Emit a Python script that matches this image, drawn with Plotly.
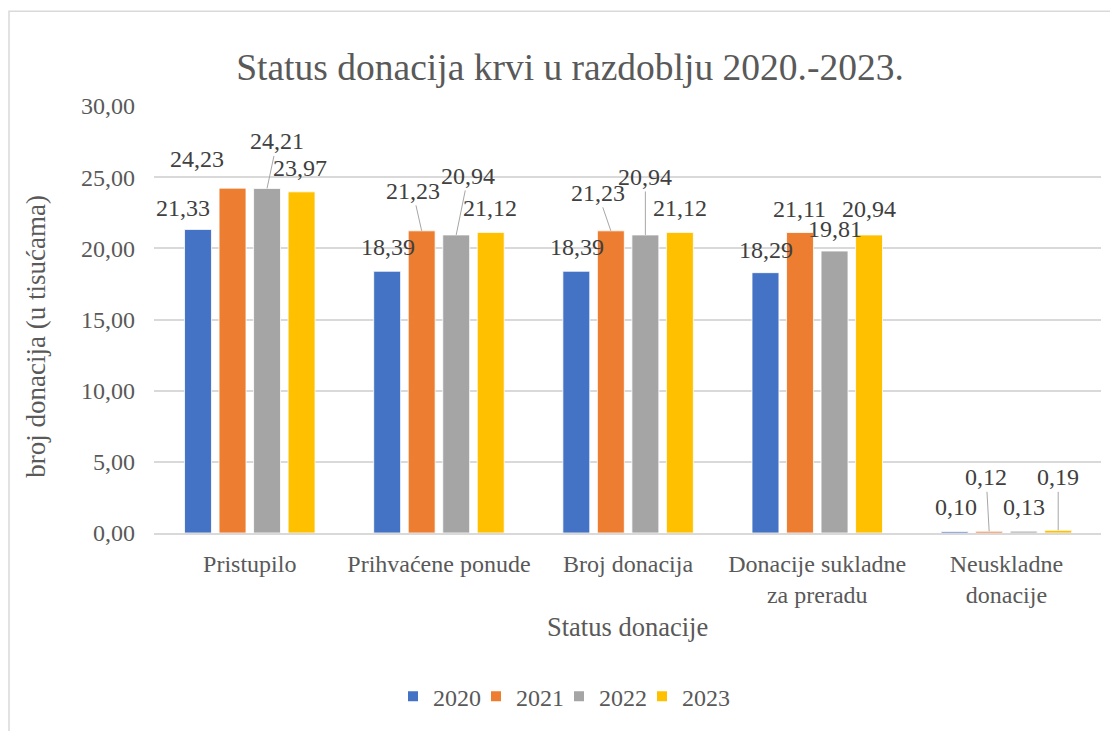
import plotly.graph_objects as go

categories = ["Pristupilo", "Prihvaćene ponude", "Broj donacija",
              "Donacije sukladne<br>za preradu", "Neuskladne<br>donacije"]
years = ["2020", "2021", "2022", "2023"]
v2020 = [21.33, 18.39, 18.39, 18.29, 0.10]
v2021 = [24.23, 21.23, 21.23, 21.11, 0.12]
v2022 = [24.21, 20.94, 20.94, 19.81, 0.13]
v2023 = [23.97, 21.12, 21.12, 20.94, 0.19]
series = [v2020, v2021, v2022, v2023]
colors = ["#4472C4", "#ED7D31", "#A5A5A5", "#FFC000"]

# label offsets (px) of label centre from bar top, and whether a leader line is drawn
label_style = [
    [(-15, -21, False), (1, -24, False), (1, -24, False), (1, -23, False), (1, -25, False)],
    [(-36, -29, False), (-9, -40, True), (-13, -38, True), (-1, -24, False), (-3, -54, True)],
    [(10, -47, True), (12, -59, True), (0, -58, True), (0, -22, False), (0, -24, False)],
    [(-2, -24, False), (-1, -24, False), (0, -24, False), (0, -26, False), (0, -53, True)],
]

FONT = "Liberation Serif"
TXT = "#595959"
OFF = 8  # page body margin

fig = go.Figure()
for yr, vals, c in zip(years, series, colors):
    fig.add_trace(go.Bar(x=categories, y=vals, name=yr, marker_color=c,
                         marker_line_color="white", marker_line_width=0.8))
# invisible spacer so the last legend entry is not clipped
fig.add_trace(go.Scatter(x=[None], y=[None], mode="markers", name=" ",
                         marker=dict(color="rgba(0,0,0,0)"), hoverinfo="skip"))

W, H = 1110, 723
L, T = 154 - OFF, 106 - OFF
R = W - (1101 - OFF)
B = H - (539 - OFF)
pw, ph = W - L - R, H - T - B
bargap = 0.27
slot = (1 - bargap) / 4

annotations = []
for k, vals in enumerate(series):
    for i, v in enumerate(vals):
        dx, dy, leader = label_style[k][i]
        annotations.append(dict(
            x=i + (k - 1.5) * slot, y=v, xref="x", yref="y",
            text=f"{v:.2f}".replace(".", ","),
            showarrow=True, ax=dx, ay=dy, axref="pixel", ayref="pixel",
            arrowhead=0, arrowwidth=1, standoff=0, startstandoff=0,
            arrowcolor="#A6A6A6" if leader else "rgba(0,0,0,0)",
            font=dict(family=FONT, size=24, color="#404040"),
        ))

def px_x(p):
    return (p - OFF - L) / pw

def px_y(p):
    return (H - B - (p - OFF)) / ph

annotations.append(dict(text="Status donacije", x=px_x(627), y=px_y(634), xref="paper", yref="paper",
                        xanchor="center", yanchor="middle",
                        showarrow=False, font=dict(family=FONT, size=26.5, color=TXT)))
annotations.append(dict(text="broj donacija (u tisućama)", x=px_x(36), y=px_y(340), xref="paper", yref="paper",
                        xanchor="center", yanchor="middle",
                        showarrow=False, textangle=-90, font=dict(family=FONT, size=27, color=TXT)))

fig.update_layout(
    width=W, height=H,
    margin=dict(l=L, r=R, t=T, b=B),
    paper_bgcolor="white", plot_bgcolor="white",
    barmode="group", bargap=bargap, bargroupgap=0.22,
    title=dict(text="Status donacija krvi u razdoblju 2020.-2023.", x=(570 - OFF) / W, xanchor="center",
               xref="container", y=1 - (67 - OFF) / H, yanchor="middle",
               font=dict(family=FONT, size=37.5, color=TXT)),
    font=dict(family=FONT, color=TXT),
    showlegend=True,
    legend=dict(orientation="h", x=px_x(393), xanchor="left", y=px_y(705), yanchor="middle",
                font=dict(family=FONT, size=24, color=TXT), entrywidth=38, entrywidthmode="pixels",
                itemsizing="constant"),
    annotations=annotations,
    shapes=[dict(type="rect", xref="paper", yref="paper", x0=px_x(9), x1=px_x(1130), y0=px_y(10), y1=px_y(745),
                 line=dict(color="#D9D9D9", width=1.5), layer="below")],
)
fig.update_xaxes(showgrid=False, showline=True, linecolor="#D9D9D9", linewidth=1.5,
                 tickfont=dict(family=FONT, size=24, color=TXT), ticks="", ticklabelstandoff=8)
fig.update_yaxes(range=[0, 30], dtick=5, tickformat=".2f",
                 showgrid=True, gridcolor="#D9D9D9", gridwidth=1.5, zeroline=False, showline=False,
                 tickfont=dict(family=FONT, size=24, color=TXT), ticks="", ticklabelstandoff=18)
fig.update_layout(separators=",.")
fig.write_html("out.html")
